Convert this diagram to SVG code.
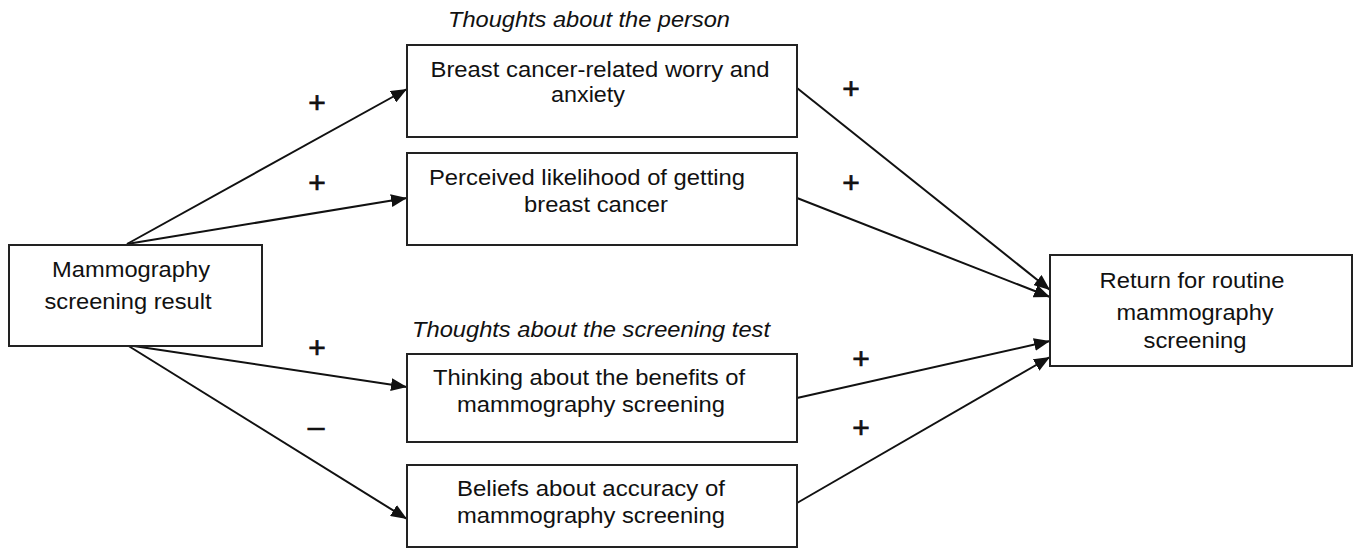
<svg xmlns="http://www.w3.org/2000/svg" width="1358" height="548" viewBox="0 0 1358 548">
<style>
.box{fill:#fff;stroke:#222;stroke-width:2}
.t{font-family:"Liberation Sans",Arial,sans-serif;font-size:21.5px;fill:#111;text-anchor:middle}
.it{font-style:italic}
.sg{font-family:"Liberation Sans",Arial,sans-serif;font-size:30px;fill:#111;stroke:#111;stroke-width:0.7;text-anchor:middle}
.c{stroke:#111;stroke-width:2;fill:none;marker-end:url(#ah)}
</style>
<defs>
<marker id="ah" markerUnits="userSpaceOnUse" markerWidth="17" markerHeight="13" refX="16" refY="6.5" orient="auto">
<path d="M0,0 L16,6.5 L0,13 Z" fill="#111"/>
</marker>
</defs>
<rect width="1358" height="548" fill="#fff"/>
<g id="connectors">
<line class="c" x1="127" y1="244" x2="407" y2="89"/>
<line class="c" x1="127" y1="244" x2="407" y2="198"/>
<line class="c" x1="127" y1="345" x2="407" y2="387"/>
<line class="c" x1="127" y1="345" x2="407" y2="519"/>
<line class="c" x1="797" y1="88" x2="1050" y2="290"/>
<line class="c" x1="797" y1="198" x2="1050" y2="297"/>
<line class="c" x1="797" y1="398" x2="1050" y2="341"/>
<line class="c" x1="797" y1="503" x2="1050" y2="357"/>
</g>
<g id="signs">
<text class="sg" x="317" y="113">+</text>
<text class="sg" x="317" y="193">+</text>
<text class="sg" x="317" y="358">+</text>
<text class="sg" x="316" y="437">–</text>
<text class="sg" x="851" y="99">+</text>
<text class="sg" x="851" y="193">+</text>
<text class="sg" x="861" y="369">+</text>
<text class="sg" x="861" y="438">+</text>
</g>
<g id="label-person">
<text class="t it" x="589" y="27" textLength="282" lengthAdjust="spacingAndGlyphs">Thoughts about the person</text>
</g>
<g id="label-test">
<text class="t it" x="591" y="337" textLength="358" lengthAdjust="spacingAndGlyphs">Thoughts about the screening test</text>
</g>
<g id="node-result">
<rect class="box" x="9" y="245" width="253" height="101"/>
<text class="t" x="131" y="277" textLength="158" lengthAdjust="spacingAndGlyphs">Mammography</text>
<text class="t" x="128" y="309" textLength="167" lengthAdjust="spacingAndGlyphs">screening result</text>
</g>
<g id="node-worry">
<rect class="box" x="407" y="45" width="390" height="92"/>
<text class="t" x="600" y="77" textLength="339" lengthAdjust="spacingAndGlyphs">Breast cancer-related worry and</text>
<text class="t" x="588" y="102" textLength="74" lengthAdjust="spacingAndGlyphs">anxiety</text>
</g>
<g id="node-likelihood">
<rect class="box" x="407" y="153" width="390" height="92"/>
<text class="t" x="587" y="185" textLength="316" lengthAdjust="spacingAndGlyphs">Perceived likelihood of getting</text>
<text class="t" x="596" y="212" textLength="144" lengthAdjust="spacingAndGlyphs">breast cancer</text>
</g>
<g id="node-benefits">
<rect class="box" x="407" y="354" width="390" height="88"/>
<text class="t" x="589" y="385" textLength="312" lengthAdjust="spacingAndGlyphs">Thinking about the benefits of</text>
<text class="t" x="591" y="412" textLength="268" lengthAdjust="spacingAndGlyphs">mammography screening</text>
</g>
<g id="node-accuracy">
<rect class="box" x="407" y="465" width="390" height="82"/>
<text class="t" x="591" y="496" textLength="268" lengthAdjust="spacingAndGlyphs">Beliefs about accuracy of</text>
<text class="t" x="591" y="523" textLength="268" lengthAdjust="spacingAndGlyphs">mammography screening</text>
</g>
<g id="node-return">
<rect class="box" x="1050" y="255" width="302" height="111"/>
<text class="t" x="1192" y="288" textLength="185" lengthAdjust="spacingAndGlyphs">Return for routine</text>
<text class="t" x="1195" y="320" textLength="157" lengthAdjust="spacingAndGlyphs">mammography</text>
<text class="t" x="1195" y="348" textLength="103" lengthAdjust="spacingAndGlyphs">screening</text>
</g>
</svg>
